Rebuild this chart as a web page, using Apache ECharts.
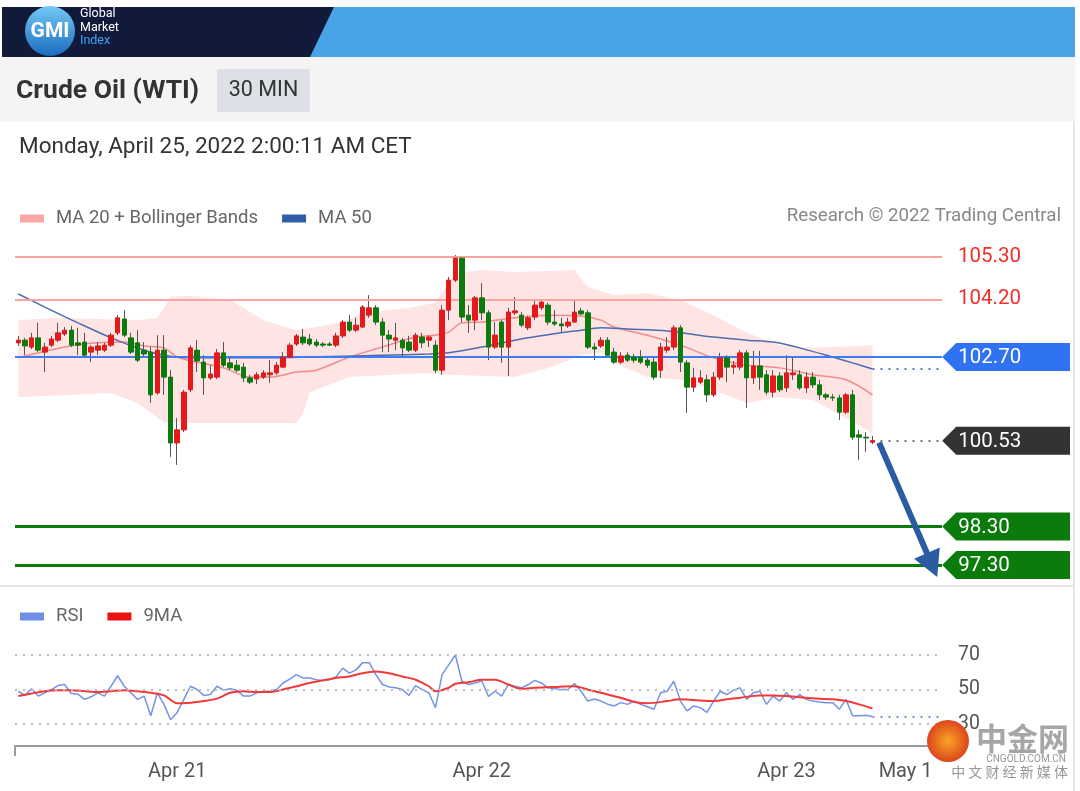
<!DOCTYPE html>
<html><head><meta charset="utf-8">
<script src="https://cdn.jsdelivr.net/npm/echarts@6/dist/echarts.min.js"></script>
<style>html,body{margin:0;padding:0;background:#fff}#c{width:1080px;height:791px}</style>
</head><body><div id="c"></div>
<script>
// ---------------- DATA ----------------
// 30-min candles: [open, close, low, high]
const candles = [
[103.07,103.14,102.99,103.25],[103.14,102.99,102.75,103.20],[102.96,103.20,102.91,103.33],[103.20,102.88,102.83,103.59],[102.83,102.96,102.31,103.07],
[103.01,103.17,102.96,103.25],[103.14,103.33,103.09,103.59],[103.30,103.40,103.25,103.48],[103.40,103.01,102.96,103.51],[103.07,103.01,102.75,103.46],
[103.09,102.75,102.70,103.33],[102.83,102.96,102.57,103.01],[102.88,102.99,102.75,103.09],[102.88,103.01,102.83,103.07],[103.01,103.27,102.96,103.33],
[103.33,103.72,103.27,103.79],[103.69,103.27,103.22,103.92],[103.20,102.83,102.78,103.33],[103.07,102.62,102.57,103.40],[102.88,102.78,102.68,103.09],
[102.83,101.72,101.51,102.96],[101.77,102.88,101.72,103.27],[102.88,102.18,101.72,103.27],[102.18,100.47,100.11,102.36],[100.47,100.81,99.90,101.12],
[100.81,101.79,100.75,101.85],[101.85,102.94,101.79,103.01],[102.88,102.60,102.31,103.14],[102.57,102.16,101.72,102.75],[102.16,102.26,102.11,102.49],
[102.18,102.81,102.13,102.91],[102.81,102.49,102.44,103.09],[102.55,102.42,102.36,102.68],[102.49,102.36,102.31,102.62],[102.44,102.16,102.05,102.55],
[102.16,102.05,102.00,102.24],[102.13,102.24,102.00,102.31],[102.18,102.29,102.13,102.36],[102.24,102.29,102.03,102.62],[102.29,102.49,102.24,102.57],
[102.44,102.70,102.42,102.83],[102.70,103.01,102.68,103.07],[103.04,103.25,102.99,103.30],[103.22,103.07,103.01,103.43],[103.17,103.04,102.99,103.30],
[103.09,103.01,102.96,103.17],[103.04,103.01,102.96,103.09],[103.04,103.01,102.99,103.09],[103.01,103.25,102.96,103.33],[103.25,103.61,103.20,103.66],
[103.61,103.40,103.35,103.79],[103.40,103.53,103.35,103.72],[103.48,104.00,103.46,104.05],[103.79,103.98,103.72,104.31],[103.98,103.61,103.53,104.05],
[103.61,103.27,102.83,103.72],[103.27,103.17,102.83,103.40],[103.14,103.20,102.88,103.59],[103.14,102.94,102.70,103.20],[103.09,102.88,102.83,103.25],
[102.88,103.27,102.83,103.33],[103.22,103.07,102.94,103.33],[103.14,103.22,102.96,103.27],[103.01,102.36,102.29,103.14],[102.36,103.92,102.24,104.05],
[103.92,104.70,103.66,104.78],[104.70,105.27,104.65,105.35],[105.27,103.74,103.61,105.30],[103.79,103.66,103.33,104.05],[103.66,104.24,103.40,104.29],
[104.24,103.85,103.66,104.62],[103.85,102.96,102.62,103.92],[102.96,103.27,102.91,103.61],[103.61,102.96,102.55,103.66],[102.96,103.87,102.21,103.98],
[103.85,103.90,103.79,104.26],[103.79,103.53,103.48,103.87],[103.46,103.72,103.40,103.77],[103.74,104.05,103.66,104.18],[103.98,104.13,103.92,104.18],
[104.05,103.61,103.53,104.11],[103.61,103.56,103.51,103.92],[103.56,103.51,103.35,103.72],[103.51,103.61,103.46,103.72],[103.61,103.87,103.59,104.18],
[103.90,103.82,103.79,103.98],[103.85,102.96,102.91,103.92],[102.96,102.91,102.62,103.07],[102.99,103.14,102.94,103.22],[103.14,102.75,102.70,103.22],
[102.83,102.57,102.52,102.94],[102.57,102.73,102.52,102.83],[102.75,102.62,102.57,102.83],[102.70,102.62,102.55,102.78],[102.70,102.57,102.52,102.88],
[102.62,102.49,102.42,102.73],[102.57,102.18,102.11,102.68],[102.36,102.96,102.16,103.07],[102.88,102.96,102.81,103.22],[102.96,103.46,102.88,103.53],
[103.46,102.57,102.31,103.53],[102.55,101.92,101.25,102.62],[101.92,102.16,101.79,102.42],[102.05,102.16,102.00,102.36],[102.11,101.72,101.53,102.24],
[101.72,102.18,101.66,102.31],[102.18,102.68,102.11,102.81],[102.68,102.44,102.05,102.75],[102.44,102.49,102.26,102.60],[102.44,102.81,102.36,102.88],
[102.81,102.16,101.38,102.88],[102.16,102.47,102.00,102.86],[102.47,102.18,101.85,102.86],[102.24,101.79,101.72,102.36],[101.79,102.21,101.66,102.36],
[102.21,101.85,101.79,102.31],[101.90,102.29,101.79,102.75],[102.24,102.29,102.11,102.70],[102.24,101.90,101.85,102.36],[101.90,102.18,101.77,102.31],
[102.18,101.98,101.90,102.31],[101.98,101.72,101.59,102.11],[101.72,101.66,101.59,101.77],[101.66,101.64,101.56,101.74],[101.64,101.27,101.07,101.72],
[101.27,101.72,101.22,101.77],[101.72,100.62,100.55,101.85],[100.68,100.62,100.03,100.81],[100.62,100.60,100.24,100.75],[100.49,100.53,100.44,100.65]
];
// MA 20 readings [candle index, price]
const ma20 = [[0,102.68],[7,102.96],[12,103.07],[16,103.09],[19,102.99],[22,102.94],[24,102.70],[27,102.57],[31,102.42],[35,102.18],[38,102.18],[42,102.31],[45,102.36],[50,102.70],[55,102.96],[60,103.22],[63,103.27],[65,103.35],[67,103.59],[70,103.61],[75,103.72],[80,103.79],[85,103.77],[88,103.66],[90,103.48],[95,103.27],[100,103.01],[105,102.68],[110,102.49],[115,102.42],[120,102.24],[125,102.11],[129,101.72]];
// MA 50 readings
const ma50 = [[0,104.34],[4,104.00],[9,103.59],[14,103.20],[19,102.88],[22,102.75],[26,102.68],[35,102.68],[43,102.70],[55,102.75],[62,102.78],[65,102.81],[70,102.96],[77,103.20],[85,103.40],[88,103.46],[92,103.43],[98,103.38],[105,103.22],[110,103.14],[114,103.09],[118,102.94],[123,102.70],[126,102.55],[129,102.39]];
// Bollinger band edges
const bbUpper = [[0,103.66],[6,103.72],[12,103.69],[18,103.66],[21,103.72],[23,104.26],[26,104.29],[32,104.18],[35,103.87],[37,103.66],[42,103.40],[45,103.48],[49,103.61],[52,103.85],[59,103.98],[63,104.11],[66,104.88],[70,104.96],[75,104.91],[84,104.96],[86,104.52],[90,104.31],[95,104.36],[100,104.18],[105,103.79],[110,103.33],[115,103.01],[120,102.94],[129,103.01]];
const bbLower = [[0,101.66],[14,101.77],[18,101.51],[22,101.01],[27,100.99],[38,100.99],[42,100.99],[43,101.25],[44,101.77],[45,101.85],[50,102.18],[62,102.29],[65,102.24],[75,102.18],[80,102.42],[85,102.75],[88,102.81],[90,102.55],[95,102.18],[100,102.11],[105,101.85],[110,101.51],[115,101.66],[120,101.59],[129,100.73]];
// RSI per candle
const rsi = [49.0,46.6,50.4,46.2,48.1,50.0,52.3,52.9,47.7,47.3,
44.3,45.8,48.1,46.2,51.9,58.0,51.9,48.1,44.3,46.2,
34.8,48.1,41.4,32.5,36.7,44.3,51.9,50.0,46.6,47.1,
51.9,49.6,50.4,49.6,46.2,46.2,48.1,49.0,49.0,50.0,
53.8,56.0,58.6,56.7,56.7,55.7,55.3,55.7,57.5,62.4,
59.5,61.4,65.6,65.6,58.6,52.9,51.5,51.0,50.0,46.6,
52.3,50.0,48.1,39.5,58.6,64.3,70.0,54.8,52.9,53.8,
55.0,46.0,49.0,46.2,52.9,51.9,51.0,52.9,55.3,53.8,
51.0,50.5,50.0,50.0,53.4,49.0,43.3,44.5,43.3,41.5,
40.5,42.4,41.4,43.3,41.4,40.0,38.6,48.1,49.0,54.8,
43.3,37.6,40.5,39.5,36.7,43.3,49.0,47.1,49.5,51.0,
44.3,48.1,49.0,41.4,46.2,43.3,48.1,44.3,47.1,44.3,
43.3,42.8,42.4,42.4,38.6,44.3,34.8,34.8,35.1,34.4];
// RSI 9-period MA readings
const rsiMa9 = [[0,46.2],[2,47.7],[4,49.0],[6,49.6],[8,49.6],[10,49.0],[12,48.5],[14,49.0],[16,49.6],[18,49.0],[20,48.1],[22,46.6],[24,42.0],[26,42.4],[28,43.3],[30,44.7],[32,48.1],[34,49.0],[36,48.5],[38,48.5],[40,50.0],[42,51.9],[44,53.8],[46,55.3],[48,56.7],[50,57.6],[52,59.5],[54,60.5],[56,59.5],[58,57.6],[60,55.7],[62,51.9],[63,49.0],[65,51.0],[66,53.4],[68,54.2],[70,55.7],[72,55.7],[74,52.9],[76,50.4],[78,51.0],[81,51.5],[84,51.9],[86,50.0],[88,48.1],[91,45.2],[93,42.8],[95,42.0],[98,43.3],[100,44.3],[102,43.9],[105,43.3],[107,44.3],[109,45.2],[112,46.6],[114,46.6],[116,46.2],[119,45.2],[121,44.7],[123,44.3],[125,43.3],[127,41.4],[129,39.0]];
// levels
const resistance = [105.30, 104.20];
const pivot = 102.70;
const lastPrice = 100.53;
const supports = [98.30, 97.30];
const rsiLevels = [70, 50, 30];
const arrowTarget = 97.30;
// x axis
const slotCount = 140;
const tickIndex = [24, 70, 116, 134];
const tickText = ['Apr 21', 'Apr 22', 'Apr 23', 'May 1'];

// ---------------- CHART ----------------
const categories = Array.from({length: slotCount}, (_, i) => String(i));
const lastIdx = candles.length - 1;
const bodies = candles.map(c => [c[0], c[1], Math.min(c[0], c[1]), Math.max(c[0], c[1])]);
const FONT = 'Roboto, "Noto Sans", sans-serif';
const chart = echarts.init(document.getElementById('c'));

const dotted = [2, 6];
const legendText = {fontSize: 18.5, color: '#666', fontFamily: FONT, padding: [0, 0, 0, 7]};
const option = {
  animation: false,
  textStyle: {fontFamily: FONT},
  grid: [
    {left: 15, width: 927, top: 241.6, height: 342.65},
    {left: 15, width: 927, top: 637.8, height: 108.2}
  ],
  xAxis: [
    {gridIndex: 0, type: 'category', data: categories, show: false},
    {gridIndex: 1, type: 'category', data: categories,
     axisLine: {show: true, lineStyle: {color: '#9a9a9a', width: 2}},
     axisTick: {show: true, interval: (i) => i === 0, length: 10, lineStyle: {color: '#9a9a9a', width: 2}},
     axisLabel: {interval: 0, margin: 16, fontSize: 20, color: '#555', fontFamily: FONT,
       formatter: (v, i) => { const k = tickIndex.indexOf(i); return k >= 0 ? tickText[k] : ''; }},
     splitLine: {show: false}}
  ],
  yAxis: [
    {gridIndex: 0, type: 'value', min: 96.8, max: 105.7, show: false, splitLine: {show: false}},
    {gridIndex: 1, type: 'value', min: 17.25, max: 80, show: false, splitLine: {show: false}}
  ],
  legend: [
    {left: 15, top: 204, itemWidth: 24, itemHeight: 8, itemGap: 24, icon: 'rect', textStyle: legendText,
     data: [{name: 'MA 20 + Bollinger Bands', itemStyle: {color: '#f9a6a6'}}, {name: 'MA 50', itemStyle: {color: '#2e5ea8'}}]},
    {left: 15, top: 602, itemWidth: 24, itemHeight: 8, itemGap: 24, icon: 'rect', textStyle: legendText,
     data: [{name: 'RSI', itemStyle: {color: '#6f90e4'}}, {name: '9MA', itemStyle: {color: '#ee1111'}}]}
  ],
  series: [
    {type: 'custom', name: 'band', xAxisIndex: 0, yAxisIndex: 0, z: 1, silent: true,
     data: bbUpper,
     renderItem: (params, api) => {
       if (params.dataIndex !== 0) return null;
       const pts = bbUpper.map(p => api.coord(p)).concat(bbLower.slice().reverse().map(p => api.coord(p)));
       return {type: 'polygon', shape: {points: pts}, style: {fill: 'rgba(255,205,205,0.55)'}};
     }},
    {type: 'line', name: 'levels', xAxisIndex: 0, yAxisIndex: 0, data: [], z: 2,
     markLine: {silent: true, symbol: ['none', 'none'], animation: false,
       data: [
         {yAxis: resistance[0], lineStyle: {color: '#f9a3a3', width: 2, type: 'solid'},
          label: {show: true, position: 'end', distance: 16, formatter: resistance[0].toFixed(2), color: '#f0302a', fontSize: 20.5, fontFamily: FONT}},
         {yAxis: resistance[1], lineStyle: {color: '#f9a3a3', width: 2, type: 'solid'},
          label: {show: true, position: 'end', distance: 16, formatter: resistance[1].toFixed(2), color: '#f0302a', fontSize: 20.5, fontFamily: FONT}},
         {yAxis: pivot, lineStyle: {color: '#3c7cf0', width: 2, type: 'solid'}, label: {show: false}},
         {yAxis: supports[0], lineStyle: {color: '#0b7d0b', width: 3, type: 'solid'}, label: {show: false}},
         {yAxis: supports[1], lineStyle: {color: '#0b7d0b', width: 3, type: 'solid'}, label: {show: false}},
         [{coord: [lastIdx, lastPrice], lineStyle: {color: '#777', width: 2, type: dotted}, label: {show: false}}, {coord: [slotCount - 1, lastPrice]}],
         [{coord: [lastIdx, ma50[ma50.length - 1][1]], lineStyle: {color: '#5a7fc4', width: 2, type: dotted}, label: {show: false}}, {coord: [slotCount - 1, ma50[ma50.length - 1][1]]}]
       ]}},
    {type: 'line', name: 'MA 20 + Bollinger Bands', xAxisIndex: 0, yAxisIndex: 0, data: ma20, z: 3,
     symbol: 'none', smooth: 0.3, lineStyle: {color: '#f28b8b', width: 1.5}, itemStyle: {color: '#f9a6a6'}},
    {type: 'line', name: 'MA 50', xAxisIndex: 0, yAxisIndex: 0, data: ma50, z: 3,
     symbol: 'none', smooth: 0.3, lineStyle: {color: '#4a6cb0', width: 1.5}, itemStyle: {color: '#2e5ea8'}},
    {type: 'candlestick', name: 'wick', xAxisIndex: 0, yAxisIndex: 0, data: candles, barWidth: 1, z: 4,
     itemStyle: {color: '#555', color0: '#555', borderColor: '#555', borderColor0: '#555', borderWidth: 1}},
    {type: 'candlestick', name: 'body', xAxisIndex: 0, yAxisIndex: 0, data: bodies, barWidth: 5, z: 5,
     itemStyle: {color: '#e3191c', color0: '#0c7a0c', borderColor: '#e3191c', borderColor0: '#0c7a0c', borderWidth: 1},
     markLine: {silent: true, animation: false, symbol: ['none', 'triangle'], symbolSize: [28, 26],
       data: [[{coord: [lastIdx + 1, lastPrice - 0.05], lineStyle: {color: '#2b5ca3', width: 6, type: 'solid'}, label: {show: false}},
               {coord: [slotCount - 2, arrowTarget]}]]}},
    {type: 'line', name: 'RSI', xAxisIndex: 1, yAxisIndex: 1, data: rsi, z: 3,
     symbol: 'none', lineStyle: {color: '#7394e6', width: 1.5}, itemStyle: {color: '#6f90e4'},
     markLine: {silent: true, animation: false, symbol: ['none', 'none'],
       data: rsiLevels.map(v => ({yAxis: v, lineStyle: {color: '#bdbdbd', width: 2, type: dotted},
         label: {show: true, position: 'end', distance: 16, formatter: String(v), color: '#555', fontSize: 19.5, fontFamily: FONT}}))
         .concat([[{coord: [lastIdx, rsi[lastIdx]], lineStyle: {color: '#7394e6', width: 2, type: dotted}, label: {show: false}}, {coord: [slotCount - 1, rsi[lastIdx]]}]])}},
    {type: 'line', name: '9MA', xAxisIndex: 1, yAxisIndex: 1, data: rsiMa9, z: 4,
     symbol: 'none', smooth: 0.3, lineStyle: {color: '#f03a3a', width: 2}, itemStyle: {color: '#ee1111'}}
  ]
};
chart.setOption(option);

// ---------------- DECORATION (header, tags, watermark) ----------------
function txt(text, x, y, font, fill, align) {
  return {type: 'text', z: 100, silent: true,
    style: {text, x, y, font, fill, textAlign: align || 'left', textVerticalAlign: 'middle', align: align || 'left', verticalAlign: 'middle'}};
}
const yOf = v => chart.convertToPixel({gridIndex: 0}, [0, v])[1];
const tagX = chart.convertToPixel({gridIndex: 0}, [slotCount - 1, lastPrice])[0] + 3.5;
function tag(v, color) {
  const y = yOf(v);
  return [
    {type: 'polygon', z: 90, silent: true, shape: {points: [[tagX, y], [tagX + 14, y - 14], [1070, y - 14], [1070, y + 14], [tagX + 14, y + 14]]}, style: {fill: color}},
    txt(v.toFixed(2), tagX + 16, y + 1, '20.5px ' + FONT, '#fff')
  ];
}
const g = [
  {type: 'rect', z: 50, silent: true, shape: {x: 2, y: 7, width: 1073, height: 50}, style: {fill: '#4aa3e6'}},
  {type: 'polygon', z: 51, silent: true, shape: {points: [[2, 7], [334, 7], [310, 57], [2, 57]]}, style: {fill: '#121a3b'}},
  {type: 'circle', z: 52, silent: true, shape: {cx: 50, cy: 31, r: 25},
   style: {fill: new echarts.graphic.LinearGradient(0, 0, 0, 1, [{offset: 0, color: '#74c8f4'}, {offset: 1, color: '#1c6cc0'}])}},
  txt('GMI', 50, 32, 'bold 21px ' + FONT, '#fff', 'center'),
  txt('Global', 80, 14, '12.5px ' + FONT, '#fff'),
  txt('Market', 80, 27.5, '12.5px ' + FONT, '#fff'),
  txt('Index', 80, 41, '12.5px ' + FONT, '#3fa3f0'),
  {type: 'rect', z: 50, silent: true, shape: {x: 0, y: 57, width: 1075, height: 65}, style: {fill: '#f4f4f4'}},
  txt('Crude Oil (WTI)', 16, 91, 'bold 26.5px ' + FONT, '#333'),
  {type: 'rect', z: 51, silent: true, shape: {x: 217, y: 69, width: 93, height: 43, r: 2}, style: {fill: '#dde0e6'}},
  txt('30 MIN', 263.5, 91, '21.5px ' + FONT, '#333', 'center'),
  txt('Monday, April 25, 2022 2:00:11 AM CET', 19, 147, '22.5px ' + FONT, '#333'),
  txt('Research \u00a9 2022 Trading Central', 1061, 216, '18.7px ' + FONT, '#888', 'right'),
  {type: 'line', z: 40, silent: true, shape: {x1: 0, y1: 586, x2: 1074, y2: 586}, style: {stroke: '#e6e6e6', lineWidth: 2}},
  {type: 'line', z: 40, silent: true, shape: {x1: 1074, y1: 122, x2: 1074, y2: 791}, style: {stroke: '#e6e6e6', lineWidth: 2}}
]
.concat(tag(pivot, '#2f72f2'))
.concat(tag(lastPrice, '#333333'))
.concat(tag(supports[0], '#0b7b0b'))
.concat(tag(supports[1], '#0b7b0b'))
.concat([
  {type: 'circle', z: 110, silent: true, shape: {cx: 948, cy: 741, r: 21},
   style: {fill: new echarts.graphic.RadialGradient(0.5, 0.5, 0.6, [{offset: 0, color: '#f6a623'}, {offset: 1, color: '#d8321c'}])}},
  txt('9', 948, 742, 'bold 30px ' + FONT, '#fde28a', 'center'),
  txt('\u4e2d\u91d1\u7f51', 976, 738, 'bold 31px "Noto Sans CJK SC"', 'rgba(150,150,150,0.85)'),
  txt('CNGOLD.COM.CN', 1066, 759, '10px ' + FONT, 'rgba(140,140,140,0.9)', 'right'),
  txt('\u4e2d \u6587 \u8d22 \u7ecf \u65b0 \u5a92 \u4f53', 1068, 772, '14px "Noto Sans CJK SC"', 'rgba(140,140,140,0.9)', 'right')
]);
chart.setOption({graphic: g});
</script>
</body></html>
